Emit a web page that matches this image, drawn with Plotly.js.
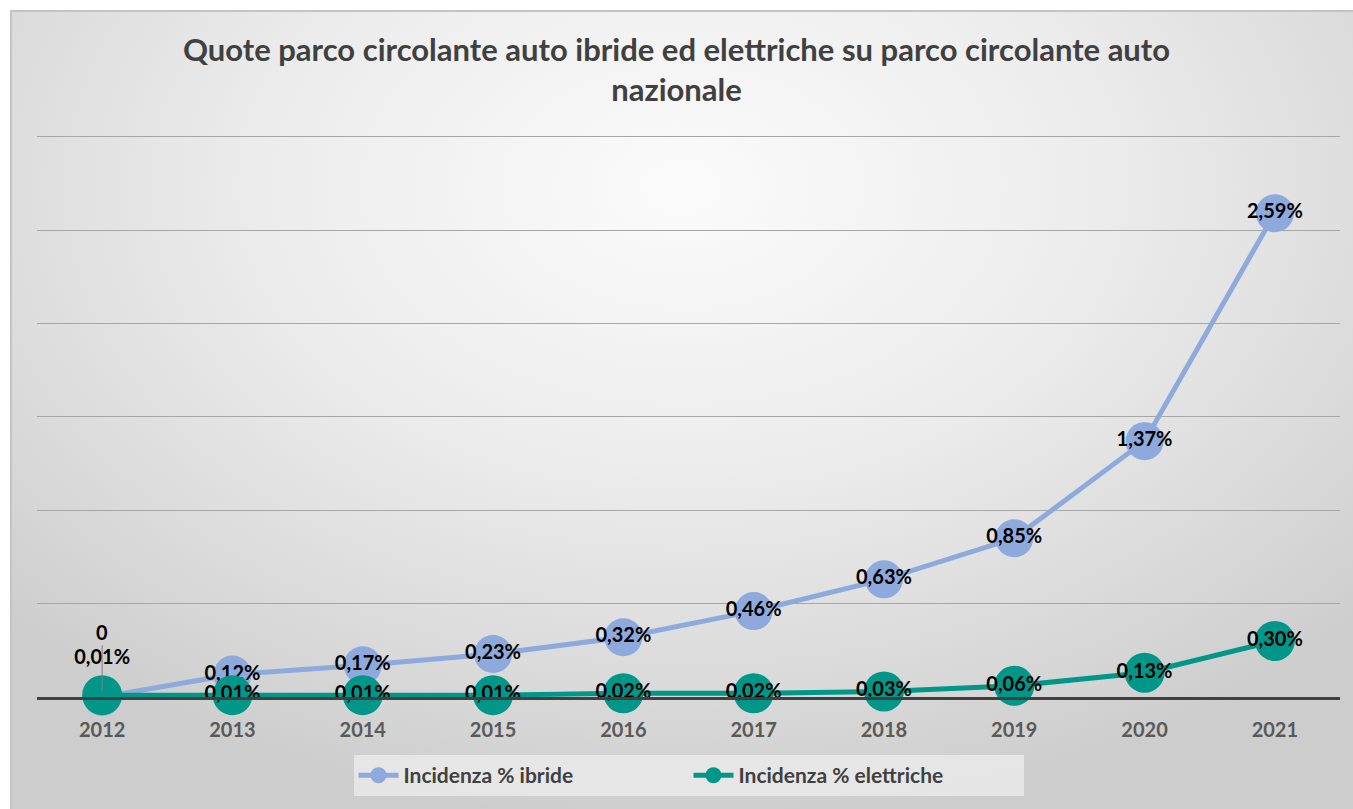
<!DOCTYPE html>
<html>
<head>
<meta charset="utf-8">
<script src="https://cdn.plot.ly/plotly-3.0.1.min.js"></script>
<style>
  html, body { margin: 0; padding: 0; background: #ffffff; }
  #bg { position: absolute; left: 10px; top: 10px; width: 1343px; height: 799px;
        background: radial-gradient(ellipse 70% 80% at 50% 22%, #fbfbfb 0%, #ececec 45%, #d6d6d6 85%, #cdcdcd 100%);
        border-left: 2px solid #c4c4c4; border-top: 2px solid #c4c4c4; box-sizing: border-box; }
  #chart { position: absolute; left: 0; top: 0; width: 1353px; height: 809px; }
</style>
</head>
<body>
<div id="bg"></div>
<div id="chart"></div>
<script>
const years = ['2012','2013','2014','2015','2016','2017','2018','2019','2020','2021'];
const ibride = [0, 0.12, 0.17, 0.23, 0.32, 0.46, 0.63, 0.85, 1.37, 2.59];
const elettriche = [0.01, 0.01, 0.01, 0.01, 0.02, 0.02, 0.03, 0.06, 0.13, 0.30];
const seriesNames = ['Incidenza % ibride', 'Incidenza % elettriche'];
const gridVals = [0.5, 1, 1.5, 2, 2.5, 3];
const chartTitle = 'Quote parco circolante auto ibride ed elettriche su parco circolante auto<br>nazionale';

const fmt = v => v === 0 ? '0' : v.toFixed(2).replace('.', ',') + '%';
const FONT = 'Lato, "Open Sans", sans-serif';

const ibrideText = ibride.map((v, i) => i === 0 ? '' : fmt(v));
const elettText = elettriche.map(fmt);
const elettPos = elettriche.map((v, i) => i === 0 ? 'top center' : 'middle center');
const firstIdx = years.indexOf('2012');

const traces = [
  {
    x: years, y: ibride, name: seriesNames[0], type: 'scatter', mode: 'lines+markers+text',
    line: { color: '#8EA9DB', width: 5 },
    marker: { color: '#8EA9DB', size: 38 },
    text: ibrideText, textposition: 'middle center',
    textfont: { family: FONT, size: 20, color: '#000000', weight: 'bold' },
    cliponaxis: false
  },
  {
    x: years, y: elettriche, name: seriesNames[1], type: 'scatter', mode: 'lines+markers+text',
    line: { color: '#009688', width: 5 },
    marker: { color: '#009688', size: 40 },
    text: elettText, textposition: elettPos,
    textfont: { family: FONT, size: 20, color: '#000000', weight: 'bold' },
    cliponaxis: false
  }
];

const layout = {
  width: 1353, height: 809,
  paper_bgcolor: 'rgba(0,0,0,0)', plot_bgcolor: 'rgba(0,0,0,0)',
  margin: { l: 37, r: 13, t: 133, b: 112 },
  title: {
    text: chartTitle, x: 0.5, xanchor: 'center', y: 0.925, yanchor: 'middle',
    font: { family: FONT, size: 31, color: '#404040', weight: 'bold' }
  },
  xaxis: {
    type: 'category', range: [-0.5, 9.5], showgrid: false, zeroline: false,
    showline: true, linecolor: '#404040', linewidth: 2.5,
    ticks: '', tickfont: { family: FONT, size: 20, color: '#595959', weight: 'bold' },
    ticklabelstandoff: 13
  },
  yaxis: {
    range: [0, 3.02], tickvals: gridVals, showticklabels: false, showgrid: true,
    gridcolor: '#a6a6a6', gridwidth: 1, zeroline: false, showline: false
  },
  showlegend: true,
  legend: {
    orientation: 'h', x: 0.5, xanchor: 'center', y: -0.103, yanchor: 'top',
    bgcolor: 'rgba(232,232,232,0.9)', borderwidth: 0,
    font: { family: FONT, size: 21, color: '#404040', weight: 'bold' },
    itemwidth: 40, entrywidth: 280
  },
  annotations: [
    {
      x: firstIdx, y: ibride[firstIdx], xref: 'x', yref: 'y', text: fmt(ibride[firstIdx]),
      showarrow: true, arrowhead: 0, arrowwidth: 1, arrowcolor: '#7f7f7f',
      ax: 0, ay: -65, standoff: 6,
      font: { family: FONT, size: 20, color: '#000000', weight: 'bold' }
    }
  ]
};

Plotly.newPlot('chart', traces, layout, { displayModeBar: false, staticPlot: true });
</script>
</body>
</html>
